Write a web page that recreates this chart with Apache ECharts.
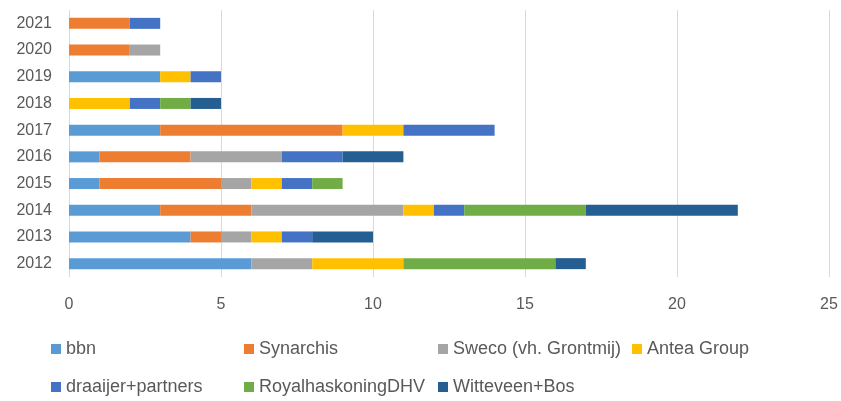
<!DOCTYPE html>
<html>
<head>
<meta charset="utf-8">
<script src="https://cdn.jsdelivr.net/npm/echarts@6/dist/echarts.min.js"></script>
<style>
    html, body { margin: 0; padding: 0; background: #fff; }
    #chart { width: 841px; height: 401px; }
</style>
</head>
<body>
<div id="chart"></div>
<script>
// jaren, van onder naar boven
var years = ["2012", "2013", "2014", "2015", "2016", "2017", "2018", "2019", "2020", "2021"];

var bbn       = [6, 4, 3, 1, 1, 3, 0, 3, 0, 0];
var synarchis = [0, 1, 3, 4, 3, 6, 0, 0, 2, 2];
var sweco     = [2, 1, 5, 1, 3, 0, 0, 0, 1, 0];
var antea     = [3, 1, 1, 1, 0, 2, 2, 1, 0, 0];
var draaijer  = [0, 1, 1, 1, 2, 3, 1, 1, 0, 1];
var royal     = [5, 0, 4, 1, 0, 0, 1, 0, 0, 0];
var witteveen = [1, 2, 5, 0, 2, 0, 1, 0, 0, 0];

var xTicks = [0, 5, 10, 15, 20, 25];

var seriesDefs = [
    { name: "bbn", data: bbn, color: "#5B9BD5" },
    { name: "Synarchis", data: synarchis, color: "#ED7D31" },
    { name: "Sweco (vh. Grontmij)", data: sweco, color: "#A5A5A5" },
    { name: "Antea Group", data: antea, color: "#FFC000" },
    { name: "draaijer+partners", data: draaijer, color: "#4472C4" },
    { name: "RoyalhaskoningDHV", data: royal, color: "#70AD47" },
    { name: "Witteveen+Bos", data: witteveen, color: "#255E91" }
];

// legend posities (2 rijen)
var legendPos = [
    [51, 340], [244, 340], [438, 340], [632, 340],
    [51, 378], [244, 378], [438, 378]
];

var font = "Liberation Sans";

var chart = echarts.init(document.getElementById("chart"));

var legends = seriesDefs.map(function (s, i) {
    return {
        data: [s.name],
        left: legendPos[i][0],
        top: legendPos[i][1],
        itemWidth: 10,
        itemHeight: 10,
        itemGap: 0,
        icon: "rect",
        padding: 0,
        selectedMode: false,
        textStyle: { color: "#595959", fontSize: 18, fontFamily: font }
    };
});

var series = seriesDefs.map(function (s) {
    return {
        name: s.name,
        type: "bar",
        stack: "totaal",
        data: s.data,
        barWidth: 11,
        itemStyle: { color: s.color },
        emphasis: { disabled: true }
    };
});

chart.setOption({
    animation: false,
    textStyle: { fontFamily: font },
    legend: legends,
    grid: {
        left: 69,
        right: 12,
        top: 10,
        bottom: 124
    },
    xAxis: {
        type: "value",
        min: xTicks[0],
        max: xTicks[xTicks.length - 1],
        interval: 5,
        axisLine: { show: false },
        axisTick: { show: false },
        axisLabel: { color: "#595959", fontSize: 16, margin: 20 },
        splitLine: { lineStyle: { color: "#D9D9D9", width: 1 } }
    },
    yAxis: {
        type: "category",
        data: years,
        axisLine: { show: false },
        axisTick: { show: false },
        axisLabel: { color: "#595959", fontSize: 16, margin: 17 }
    },
    series: series
});
</script>
</body>
</html>
